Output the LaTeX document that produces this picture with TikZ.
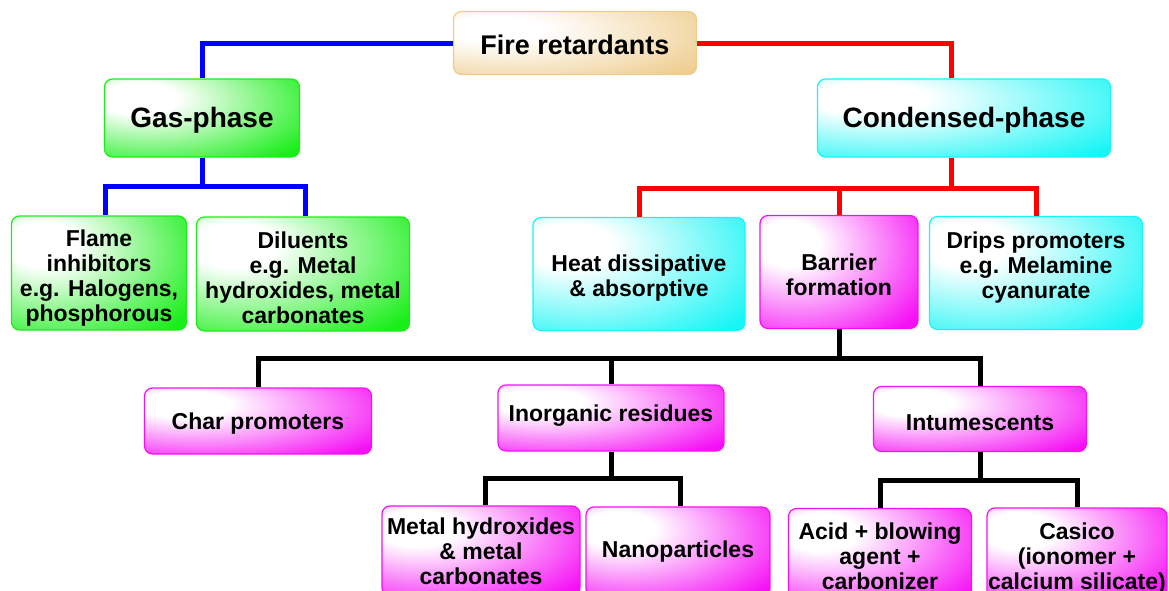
\documentclass[tikz,border=0pt]{standalone}
\usepackage{fontspec}
\setmainfont{Liberation Sans}
\definecolor{firetan}{RGB}{238,204,140}
\definecolor{gasgreen}{RGB}{25,238,25}
\definecolor{condcyan}{RGB}{25,245,245}
\definecolor{barmag}{RGB}{245,15,245}
\pgfdeclareradialshading{fireshade}{\pgfpoint{-18bp}{12bp}}{color(0bp)=(white); color(10bp)=(white); color(45bp)=(firetan); color(100bp)=(firetan)}
\pgfdeclareradialshading{gasshade}{\pgfpoint{-18bp}{14bp}}{color(0bp)=(white); color(10bp)=(white); color(44bp)=(gasgreen); color(100bp)=(gasgreen)}
\pgfdeclareradialshading{condshade}{\pgfpoint{-18bp}{14bp}}{color(0bp)=(white); color(10bp)=(white); color(44bp)=(condcyan); color(100bp)=(condcyan)}
\pgfdeclareradialshading{barshade}{\pgfpoint{-18bp}{14bp}}{color(0bp)=(white); color(10bp)=(white); color(44bp)=(barmag); color(100bp)=(barmag)}

\begin{document}
\begin{tikzpicture}[x=0.5pt, y=-0.5pt,
    box/.style={rounded corners=4pt, align=center, inner sep=0pt, line width=0.6pt,
        font=\bfseries\fontsize{11.5}{12.5}\selectfont},
    firebox/.style={box, shade, shading=fireshade, draw=firetan},
    gasbox/.style={box, shade, shading=gasshade, draw=gasgreen},
    condbox/.style={box, shade, shading=condshade, draw=condcyan},
    barbox/.style={box, shade, shading=barshade, draw=barmag},
    big/.style={font=\bfseries\fontsize{14}{16}\selectfont},
    textdrop/.style={execute at begin node={\rule{0pt}{#1}}},
    textlift/.style={execute at end node={\rule[-#1]{0pt}{#1}}},
    link/.style={line width=2.5pt, line join=miter},
    bluelink/.style={link, draw=blue},
    redlink/.style={link, draw=red},
    blacklink/.style={link, draw=black}]
    \useasboundingbox (0,0) rectangle (1169,590);
    \clip (0,0) rectangle (1169,590);
    % Root
    \node[firebox, minimum width=121.5pt, minimum height=31.5pt, textdrop=11.7pt,
        font=\bfseries\fontsize{13.5}{15}\selectfont] (fire) at (575,43) {Fire retardants};
    % Two phases
    \node[gasbox, big, textdrop=12.1pt, minimum width=97.5pt, minimum height=39pt] (gas) at (202,118) {Gas-phase};
    \node[condbox, big, textdrop=12.1pt, minimum width=146.5pt, minimum height=39pt] (cond) at (964,118) {Condensed-phase};
    \draw[bluelink] (fire.west) -| (gas.north);
    \draw[redlink] (fire.east) -| ([xshift=-6.5pt]cond.north);
    % Gas-phase branch
    \node[gasbox, textdrop=50.9pt, minimum width=87.5pt, minimum height=57pt] (flame) at (99,273)
        {Flame\\inhibitors\\e.g. Halogens,\\phosphorous};
    \node[gasbox, textdrop=49.9pt, minimum width=106.5pt, minimum height=57pt] (dil) at (303,274)
        {Diluents\\e.g. Metal\\hydroxides, metal\\carbonates};
    \draw[bluelink] (gas.south) -- ++(0,29) coordinate (gasfork);
    \draw[bluelink] (gasfork) -| ([xshift=3pt]flame.north);
    \draw[bluelink] (gasfork) -| ([xshift=1pt]dil.north);
    % Condensed-phase branch
    \node[condbox, textdrop=24.9pt, minimum width=106pt, minimum height=56.5pt] (heat) at (639,274)
        {Heat dissipative\\\& absorptive};
    \node[barbox, textdrop=23.9pt, minimum width=79pt, minimum height=56.5pt] (barrier) at (839,272)
        {Barrier\\formation};
    \node[condbox, textlift=7.4pt, minimum width=106.5pt, minimum height=56.5pt] (drips) at (1036,273)
        {Drips promoters\\e.g. Melamine\\cyanurate};
    \draw[redlink] ([xshift=-6.5pt]cond.south) -- ++(0,31) coordinate (condfork);
    \draw[redlink] (condfork) -| (heat.north);
    \draw[redlink] (condfork) -| (barrier.north);
    \draw[redlink] (condfork) -| (drips.north);
    % Barrier formation branch
    \node[barbox, textdrop=11.3pt, minimum width=113.5pt, minimum height=33pt] (char) at (258,421) {Char promoters};
    \node[barbox, textlift=4.4pt, minimum width=113pt, minimum height=33pt] (inorg) at (611,418) {Inorganic residues};
    \node[barbox, textdrop=11.3pt, minimum width=106.5pt, minimum height=32.5pt] (intum) at (980,419) {Intumescents};
    \draw[blacklink] (barrier.south) -- ++(0,29) coordinate (barfork);
    \draw[blacklink] (barfork) -| (char.north);
    \draw[blacklink] (barfork) -| (inorg.north);
    \draw[blacklink] (barfork) -| (intum.north);
    % Inorganic residues
    \node[barbox, minimum width=99pt, minimum height=45pt] (metal) at (481,551)
        {Metal hydroxides\\\& metal\\carbonates};
    \node[barbox, minimum width=92pt, minimum height=45pt] (nano) at (678,552) {Nanoparticles};
    \draw[blacklink] (inorg.south) -- ++(0,27) coordinate (inorgfork);
    \draw[blacklink] (inorgfork) -| ([xshift=2pt]metal.north);
    \draw[blacklink] (inorgfork) -| ([xshift=1pt]nano.north);
    % Intumescents
    \node[barbox, minimum width=91.5pt, minimum height=47.5pt] (acid) at (880,556)
        {Acid + blowing\\agent +\\carbonizer};
    \node[barbox, textdrop=37.4pt, minimum width=90pt, minimum height=46pt] (casico) at (1077,554)
        {Casico\\(ionomer +\\calcium silicate)};
    \draw[blacklink] (intum.south) -- ++(0,28) coordinate (intumfork);
    \draw[blacklink] (intumfork) -| (acid.north);
    \draw[blacklink] (intumfork) -| (casico.north);
\end{tikzpicture}
\end{document}
